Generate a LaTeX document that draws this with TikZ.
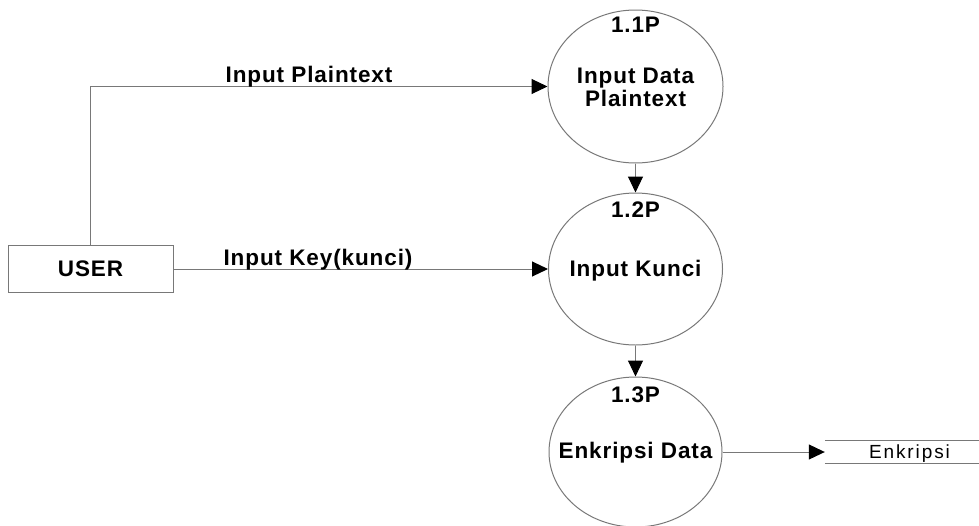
\documentclass[tikz,border=0pt]{standalone}
\usepackage{fontspec}
\setmainfont{Liberation Sans}
\newfontfamily\lblfont[LetterSpace=4]{Liberation Sans}
\newfontfamily\storefont[LetterSpace=10]{Liberation Sans}
\usetikzlibrary{arrows.meta,shapes.geometric}
\definecolor{linegray}{RGB}{120,120,120}
\begin{document}
\begin{tikzpicture}[x=1pt,y=-1pt,
  line/.style={draw=linegray, line width=1pt},
  flow/.style={line, -{Triangle[length=16pt,width=15pt,color=black]}},
  proc/.style={ellipse, draw=linegray, line width=1pt, inner sep=0pt},
  lbl/.style={font=\lblfont\bfseries\fontsize{22.5}{24}\selectfont, anchor=base, inner sep=0pt, text=black}
]
\useasboundingbox (0,0) rectangle (979,525);

% processes
\node[proc, minimum width=175pt, minimum height=153pt] (p1) at (635.5,86.5) {};
\node[proc, minimum width=174pt, minimum height=152pt] (p2) at (635.5,269) {};
\node[proc, minimum width=173pt, minimum height=150pt] (p3) at (635.5,452) {};

% external entity
\node[draw=linegray, line width=1pt, minimum width=165pt, minimum height=47pt, inner sep=0pt,
      font=\lblfont\bfseries\fontsize{22.5}{24}\selectfont] (user) at (90.5,269) {USER};

% data store
\node[minimum width=154pt, minimum height=23pt, inner sep=0pt] (store) at (902,452) {};
\draw[line] (store.north west) -- (store.north east) (store.south west) -- (store.south east);
\node[anchor=base, inner sep=0pt, font=\storefont\fontsize{19}{21}\selectfont] (storelbl) at (909.5,458) {Enkripsi};

% flows
\draw[flow] (user.north) |- (p1.west);
\draw[flow] (user.east) -- (p2.west);
\draw[flow] (p1.south) -- (p2.north);
\draw[flow] (p2.south) -- (p3.north);
\draw[flow] (p3.east) -- (store.west);

% texts
\node[lbl] (l11) at (635.5,32) {1.1P};
\node[lbl] (t1a) at (635.5,83) {Input Data};
\node[lbl] (t1b) at (635.5,106) {Plaintext};
\node[lbl] (l12) at (635.5,217) {1.2P};
\node[lbl] (t2) at (635.5,276) {Input Kunci};
\node[lbl] (l13) at (635.5,402) {1.3P};
\node[lbl] (t3) at (635.5,458) {Enkripsi Data};
\node[lbl] (fl1) at (309,82) {Input Plaintext};
\node[lbl] (fl2) at (318,265) {Input Key(kunci)};
\end{tikzpicture}
\end{document}
